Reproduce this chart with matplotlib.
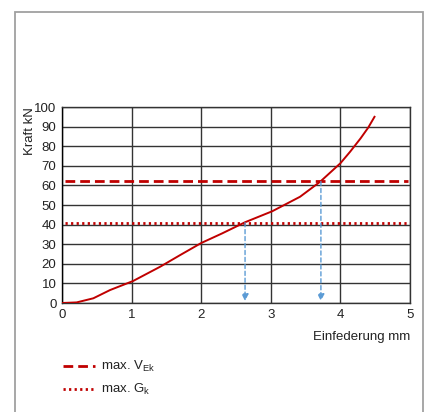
import numpy as np
import matplotlib.pyplot as plt
from matplotlib.patches import Rectangle

plt.rcParams['font.family'] = ['Liberation Sans', 'DejaVu Sans']

# Kennlinie
weg = [0, 0.21, 0.45, 0.69, 1.02, 1.41, 1.70, 2.0, 2.3, 2.63, 3.02, 3.42, 3.71,
       4.0, 4.14, 4.29, 4.40, 4.49]
kraft = [0, 0.3, 2.4, 6.6, 11.2, 18.5, 24.5, 30.6, 35.5, 41.2, 46.8, 54.2, 61.9,
         71.3, 77.2, 84, 89.5, 95]

v_ek = 62
g_k = 41
schnitt_x = [2.63, 3.72]
schnitt_y = [g_k, v_ek]

xticks = [0, 1, 2, 3, 4, 5]
yticks = list(range(0, 101, 10))

W, H = 424, 412
fig = plt.figure(figsize=(W / 100, H / 100), dpi=100)
fig.patches.append(Rectangle((14.5 / W, -0.01), (408.5 / W), 1 - 11.5 / H + 0.01,
                             transform=fig.transFigure, fill=False,
                             edgecolor='#a0a0a0', linewidth=1.3))

ax = fig.add_axes([62 / W, 1 - 303 / H, 348 / W, 196 / H])
ax.set_xlim(0, 5)
ax.set_ylim(0, 100)
ax.set_xticks(xticks)
ax.set_yticks(yticks)
ax.tick_params(length=0, labelsize=9.5, pad=4, colors='#222222')
ax.grid(True, color='#333333', linewidth=1)
ax.set_axisbelow(True)
for s in ax.spines.values():
    s.set_color('#333333')
    s.set_linewidth(1)
ax.spines['left'].set_color('#000000')

rot = '#c00000'
ax.plot(weg, kraft, color=rot, linewidth=1.4, zorder=4)
ax.plot([0.05, 4.97], [v_ek, v_ek], color=rot, linewidth=2, linestyle=(0, (3.5, 1.8)), zorder=3)
ax.plot([0.05, 5], [g_k, g_k], color=rot, linewidth=2, linestyle=(0, (0.8, 1.2)), zorder=3)

for x, y in zip(schnitt_x, schnitt_y):
    ax.annotate('', xy=(x, 1), xytext=(x, y),
                arrowprops=dict(arrowstyle='-|>', color='#5b9bd5', linewidth=1,
                                linestyle=(0, (3, 2)), mutation_scale=10,
                                shrinkA=0, shrinkB=0), zorder=5)

fig.text(30 / W, 1 - 131 / H, 'Kraft kN', rotation=90, ha='center', va='center',
         fontsize=9.5, color='#222222')
fig.text(410 / W, 1 - 337 / H, 'Einfederung mm', ha='right', va='center',
         fontsize=9.5, color='#222222')

# Legende
fig.add_artist(plt.Line2D([63 / W, 95 / W], [1 - 366 / H] * 2, color=rot, linewidth=2,
                          linestyle=(0, (3.5, 1.8))))
fig.add_artist(plt.Line2D([63 / W, 95 / W], [1 - 389 / H] * 2, color=rot, linewidth=2,
                          linestyle=(0, (0.8, 1.2))))
fig.text(101 / W, 1 - 366 / H, 'max. V$_{\\mathregular{Ek}}$', ha='left', va='center',
         fontsize=9.5, color='#222222')
fig.text(101 / W, 1 - 389 / H, 'max. G$_{\\mathregular{k}}$', ha='left', va='center',
         fontsize=9.5, color='#222222')

fig.savefig('out.png', dpi=100)
